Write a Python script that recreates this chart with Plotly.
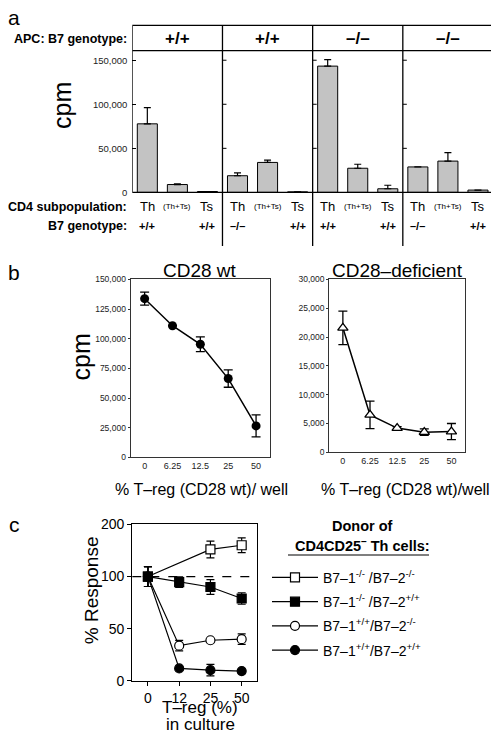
import plotly.graph_objects as go

# reference canvas is 499x744; page body margin offsets the figure by 8px,
# so the figure is sized to the remaining visible area.
W, H = 499, 744
OFF = 8
FW, FH = W - OFF, H - OFF
FONT = "Liberation Sans, Arial, Helvetica, sans-serif"

# ---------------- data ----------------
# panel a
apc_genotype = ["+/+", "+/+", "–/–", "–/–"]
subpops = ["Th", "(Th+Ts)", "Ts"] * 4
cell_genotype = ["+/+", "", "+/+", "–/–", "", "+/+", "+/+", "", "+/+", "–/–", "", "+/+"]
cpm_a = [77800, 8900, 1000, 18900, 34000, 600, 143300, 27400, 4100, 28900, 35500, 2600]
cpm_a_err = [18400, 700, None, 3300, 2700, None, 7400, 4500, 4000, None, 9700, None]
cpm_a_ticks = [0, 50000, 100000, 150000]

# panel b
treg_b = ["0", "6.25", "12.5", "25", "50"]
cpm_wt = [133800, 111000, 95400, 66500, 26600]
cpm_wt_err = [5500, None, 6200, 7300, 9300]
cpm_def = [21600, 6500, 4200, 3500, 3600]
cpm_def_err = [2900, 2400, 250, 550, 1400]

# panel c
treg_c = ["0", "12", "25", "50"]
resp_ticks = [0, 50, 100, 150]
resp_ticktext = ["0", "50", "100", "200"]
donors = [
    "B7–1<sup>-/-</sup> /B7–2<sup>-/-</sup>",
    "B7–1<sup>-/-</sup> /B7–2<sup>+/+</sup>",
    "B7–1<sup>+/+</sup>/B7–2<sup>-/-</sup>",
    "B7–1<sup>+/+</sup>/B7–2<sup>+/+</sup>",
]
resp_ko_ko = [100, None, 126, 130]
resp_ko_ko_err = [9.5, None, 8, 7]
resp_ko_wt = [100, 94.7, 90, 79]
resp_ko_wt_err = [9.5, 5, 7, 5.5]
resp_wt_ko = [100, 33.8, 39, 40]
resp_wt_ko_err = [9.5, 5, None, 5]
resp_wt_wt = [100, 12, 10.3, 9.4]
resp_wt_wt_err = [9.5, None, 5.5, 2]


def fx(px):
    return (px - OFF) / FW


def fy(py):
    return 1 - (py - OFF) / FH


fig = go.Figure()

# ---------------- panel a ----------------
fig.add_trace(go.Bar(
    x=list(range(len(cpm_a))), y=cpm_a, width=0.667,
    marker=dict(color="#c3c3c3", line=dict(color="black", width=1)),
    error_y=dict(type="data", symmetric=False, array=cpm_a_err,
                 arrayminus=[0] * len(cpm_a), color="black", thickness=1.2, width=3.5),
    xaxis="x", yaxis="y", showlegend=False,
))

# ---------------- panel b ----------------
fig.add_trace(go.Scatter(
    x=treg_b, y=cpm_wt, mode="lines+markers",
    line=dict(color="black", width=1.5),
    marker=dict(symbol="circle", size=9, color="black"),
    error_y=dict(type="data", array=cpm_wt_err, color="black", thickness=1.3, width=4.5),
    xaxis="x2", yaxis="y2", showlegend=False,
))
fig.add_trace(go.Scatter(
    x=treg_b, y=cpm_def, mode="lines+markers",
    line=dict(color="black", width=1.5),
    marker=dict(symbol="triangle-up", size=9, color="white", line=dict(color="black", width=1.3)),
    error_y=dict(type="data", array=cpm_def_err, color="black", thickness=1.3, width=4.5),
    xaxis="x3", yaxis="y3", showlegend=False,
))

# ---------------- panel c ----------------
series_c = [
    (resp_ko_ko, resp_ko_ko_err, "square", "white", 1),
    (resp_ko_wt, resp_ko_wt_err, "square", "black", 2),
    (resp_wt_ko, resp_wt_ko_err, "circle", "white", 3),
    (resp_wt_wt, resp_wt_wt_err, "circle", "black", 4),
]
draw_order = [0, 2, 3, 1]
for i in draw_order:
    vals, errs, sym, fill, rank = series_c[i]
    fig.add_trace(go.Scatter(
        x=treg_c, y=vals, mode="lines+markers", name=donors[i], connectgaps=True,
        legendgroup="g%d" % rank,
        line=dict(color="black", width=1.2),
        marker=dict(symbol=sym, size=9, color=fill, line=dict(color="black", width=1.2)),
        error_y=dict(type="data", array=errs, color="black", thickness=1.2, width=4),
        xaxis="x4", yaxis="y4", legendrank=rank,
    ))

tickfont_small = dict(family=FONT, size=9, color="#222")

layout = dict(
    width=FW, height=FH, autosize=False,
    margin=dict(l=0, r=0, t=0, b=0),
    paper_bgcolor="white", plot_bgcolor="white",
    font=dict(family=FONT, color="black"),
    # panel a
    xaxis=dict(domain=[fx(132.3), fx(493)], range=[-0.5, 11.5], showticklabels=False,
               showgrid=False, zeroline=False, ticks="", anchor="y"),
    yaxis=dict(domain=[fy(188.3), fy(43.3)], range=[0, 161000], tickvals=cpm_a_ticks,
               tickformat=",d", ticks="inside", ticklen=4, tickcolor="black",
               showgrid=False, zeroline=False, showline=False, ticklabelstandoff=4,
               tickfont=dict(family=FONT, size=9.5, color="#222"), anchor="x"),
    # panel b left
    xaxis2=dict(domain=[fx(130.7), fx(270)], type="category", range=[-0.5, 4.5],
                showline=True, mirror=True, linecolor="#333", linewidth=1.2,
                ticks="", showgrid=False, zeroline=False, tickfont=tickfont_small, anchor="y2"),
    yaxis2=dict(domain=[fy(459.3), fy(277.3)], range=[0, 150000], dtick=25000,
                tickformat=",d", ticks="outside", ticklen=2, tickcolor="#333",
                showline=True, mirror=True, linecolor="#333", linewidth=1.2,
                showgrid=False, zeroline=False, tickfont=dict(family=FONT, size=8.5, color="#222"),
                anchor="x2"),
    # panel b right
    xaxis3=dict(domain=[fx(329.3), fx(465)], type="category", range=[-0.5, 4.5],
                showline=True, mirror=True, linecolor="#333", linewidth=1.2,
                ticks="", showgrid=False, zeroline=False, tickfont=tickfont_small, anchor="y3"),
    yaxis3=dict(domain=[fy(454), fy(277.3)], range=[0, 30000], dtick=5000,
                tickformat=",d", ticks="outside", ticklen=2, tickcolor="#333",
                showline=True, mirror=True, linecolor="#333", linewidth=1.2,
                showgrid=False, zeroline=False, tickfont=dict(family=FONT, size=8.5, color="#222"),
                anchor="x3"),
    # panel c
    xaxis4=dict(domain=[fx(132.3), fx(257.3)], type="category", range=[-0.5, 3.5],
                showline=True, mirror=True, linecolor="black", linewidth=1.3,
                ticks="outside", ticklen=4, tickcolor="black",
                showgrid=False, zeroline=False, tickfont=dict(family=FONT, size=14), anchor="y4"),
    yaxis4=dict(domain=[fy(687.7), fy(527.7)], range=[0, 150], tickvals=resp_ticks,
                ticktext=resp_ticktext, ticks="outside", ticklen=4, tickcolor="black",
                showline=True, mirror=True, linecolor="black", linewidth=1.3,
                showgrid=False, zeroline=False, tickfont=dict(family=FONT, size=14), anchor="x4"),
    legend=dict(x=fx(267), y=fy(566), xanchor="left", yanchor="top",
                font=dict(family=FONT, size=14), bgcolor="rgba(0,0,0,0)",
                traceorder="grouped", tracegroupgap=3, itemwidth=46),
)
fig.update_layout(**layout)

# ---------------- shapes ----------------
shapes = []
# panel a outer box (header + plot)
shapes.append(dict(type="rect", xref="x", yref="paper", x0=-0.5, x1=len(cpm_a) - 0.5,
                   y0=fy(188.3), y1=fy(17.5), line=dict(color="black", width=1.3)))
shapes.append(dict(type="line", xref="x", yref="paper", x0=-0.5, x1=len(cpm_a) - 0.5,
                   y0=fy(43.3), y1=fy(43.3), line=dict(color="black", width=1.3)))
n_groups = len(apc_genotype)
for k in range(1, n_groups):
    xd = 3 * k - 0.5
    shapes.append(dict(type="line", xref="x", yref="paper", x0=xd, x1=xd,
                       y0=fy(243), y1=fy(17.5), line=dict(color="black", width=1.3)))
    for t in cpm_a_ticks[1:]:
        shapes.append(dict(type="line", xref="x", yref="y", xsizemode="pixel", xanchor=xd,
                           x0=0, x1=4, y0=t, y1=t, line=dict(color="black", width=1)))
# panel c dashed 100% line
shapes.append(dict(type="line", xref="x4 domain", yref="y4", x0=0, x1=1, y0=100, y1=100,
                   line=dict(color="black", width=1.2, dash="dash")))
# legend title underline
shapes.append(dict(type="line", xref="paper", yref="paper", x0=fx(288), x1=fx(429),
                   y0=fy(559), y1=fy(559), line=dict(color="black", width=1.2)))
fig.update_layout(shapes=shapes)

# ---------------- annotations ----------------
ann = []


def txt(text, x, y, size, xref="paper", xanchor="center", yanchor="middle", textangle=0, bold=False):
    if bold:
        text = "<b>" + text + "</b>"
    ann.append(dict(text=text, x=x, y=y, xref=xref, yref="paper", xanchor=xanchor,
                    yanchor=yanchor, showarrow=False, textangle=textangle,
                    font=dict(family=FONT, size=size, color="black")))


# panel letters
txt("a", fx(14), fy(10), 21)
txt("b", fx(14), fy(270), 21)
txt("c", fx(14), fy(528), 21)

# panel a
txt("APC: B7 genotype:", fx(129), fy(31), 12.5, xanchor="right", bold=True)
for k, g in enumerate(apc_genotype):
    txt(g, 3 * k + 1, fy(31), 17, xref="x", bold=True)
txt("cpm", fx(62), fy(100), 25, textangle=-90)
txt("CD4 subpopulation:", fx(129), fy(203), 12.5, xanchor="right", bold=True)
txt("B7 genotype:", fx(129), fy(223), 12.5, xanchor="right", bold=True)
for i, s in enumerate(subpops):
    txt(s, i, fy(203), 8 if s.startswith("(") else 13, xref="x")
for i, g in enumerate(cell_genotype):
    if g:
        txt(g, i, fy(223), 11, xref="x", bold=True)

# panel b
txt("CD28 wt", fx(200), fy(268), 19)
txt("CD28–deficient", fx(397), fy(268), 19)
txt("cpm", fx(81), fy(357), 25, textangle=-90)
txt("% T–reg (CD28 wt)/ well", fx(201), fy(492), 16)
txt("% T–reg (CD28 wt)/well", fx(405), fy(492), 16)

# panel c
txt("% Response", fx(91), fy(595), 19, textangle=-90)
txt("T–reg (%)", fx(200), fy(715), 17)
txt("in culture", fx(200), fy(732), 17)
txt("Donor of", fx(362), fy(529), 14.5, bold=True)
txt("CD4CD25<sup>–</sup> Th cells:", fx(362), fy(549), 14.5, bold=True)

fig.update_layout(annotations=ann)

fig.write_html("out.html")
